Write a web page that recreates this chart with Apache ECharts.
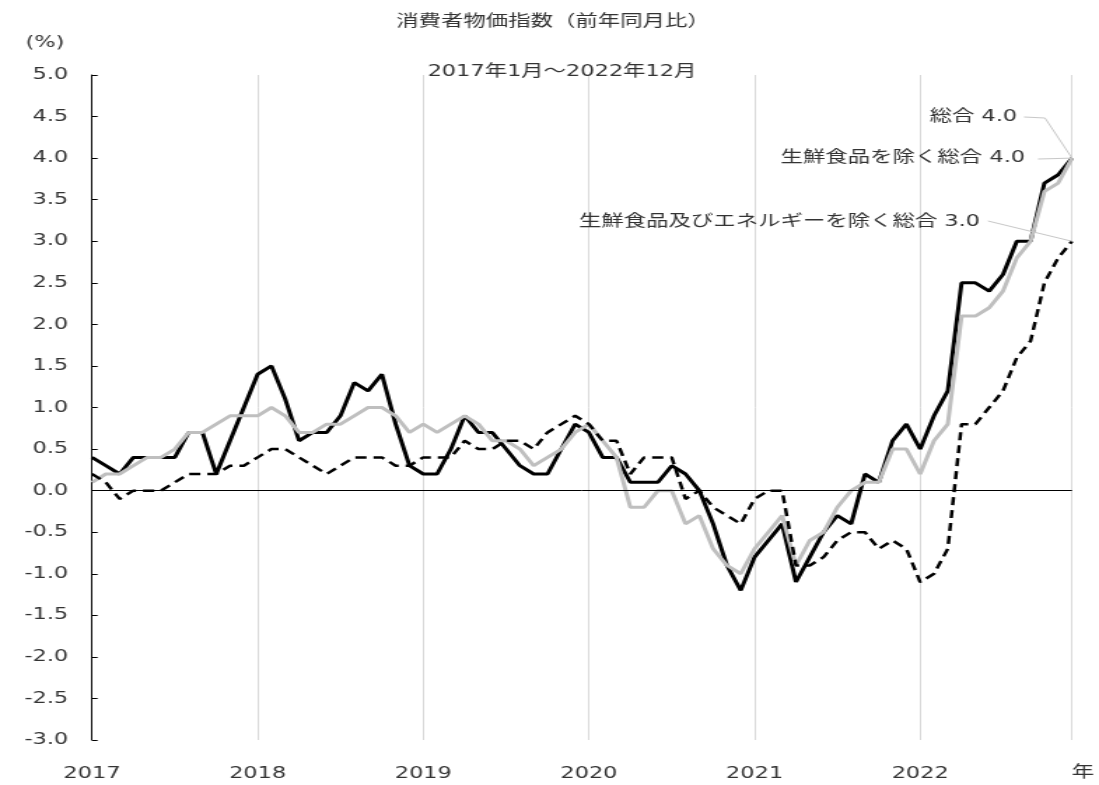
<!DOCTYPE html>
<html><head><meta charset="utf-8">
<script src="https://cdn.jsdelivr.net/npm/echarts@6/dist/echarts.min.js"></script>
<style>
html,body{margin:0;padding:0;background:#fff;overflow:hidden;width:1099px;height:785px}
#wrap{width:785px;height:785px;transform:scaleX(1.4);transform-origin:0 0;}
</style></head><body><div id="wrap"></div>
<script>
// horizontal stretch of the whole picture (the reference is horizontally stretched)
const SX = 1.4;

const years = ['2017', '2018', '2019', '2020', '2021', '2022'];
const titleText = '消費者物価指数（前年同月比）';
const subtitleText = '2017年1月～2022年12月';
const unitText = '(%)';
const yearUnit = '年';
const names = ['総合', '生鮮食品を除く総合', '生鮮食品及びエネルギーを除く総合'];

// 総合
const headline = [
  0.4, 0.3, 0.2, 0.4, 0.4, 0.4, 0.4, 0.7, 0.7, 0.2, 0.6, 1.0,
  1.4, 1.5, 1.1, 0.6, 0.7, 0.7, 0.9, 1.3, 1.2, 1.4, 0.8, 0.3,
  0.2, 0.2, 0.5, 0.9, 0.7, 0.7, 0.5, 0.3, 0.2, 0.2, 0.5, 0.8,
  0.7, 0.4, 0.4, 0.1, 0.1, 0.1, 0.3, 0.2, 0.0, -0.4, -0.9, -1.2,
  -0.8, -0.6, -0.4, -1.1, -0.8, -0.5, -0.3, -0.4, 0.2, 0.1, 0.6, 0.8,
  0.5, 0.9, 1.2, 2.5, 2.5, 2.4, 2.6, 3.0, 3.0, 3.7, 3.8, 4.0
];
// 生鮮食品を除く総合
const core = [
  0.1, 0.2, 0.2, 0.3, 0.4, 0.4, 0.5, 0.7, 0.7, 0.8, 0.9, 0.9,
  0.9, 1.0, 0.9, 0.7, 0.7, 0.8, 0.8, 0.9, 1.0, 1.0, 0.9, 0.7,
  0.8, 0.7, 0.8, 0.9, 0.8, 0.6, 0.6, 0.5, 0.3, 0.4, 0.5, 0.7,
  0.8, 0.6, 0.4, -0.2, -0.2, 0.0, 0.0, -0.4, -0.3, -0.7, -0.9, -1.0,
  -0.7, -0.5, -0.3, -0.9, -0.6, -0.5, -0.2, 0.0, 0.1, 0.1, 0.5, 0.5,
  0.2, 0.6, 0.8, 2.1, 2.1, 2.2, 2.4, 2.8, 3.0, 3.6, 3.7, 4.0
];
// 生鮮食品及びエネルギーを除く総合
const coreCore = [
  0.2, 0.1, -0.1, 0.0, 0.0, 0.0, 0.1, 0.2, 0.2, 0.2, 0.3, 0.3,
  0.4, 0.5, 0.5, 0.4, 0.3, 0.2, 0.3, 0.4, 0.4, 0.4, 0.3, 0.3,
  0.4, 0.4, 0.4, 0.6, 0.5, 0.5, 0.6, 0.6, 0.5, 0.7, 0.8, 0.9,
  0.8, 0.6, 0.6, 0.2, 0.4, 0.4, 0.4, -0.1, 0.0, -0.2, -0.3, -0.4,
  -0.1, 0.0, 0.0, -0.9, -0.9, -0.8, -0.6, -0.5, -0.5, -0.7, -0.6, -0.7,
  -1.1, -1.0, -0.7, 0.8, 0.8, 1.0, 1.2, 1.6, 1.8, 2.5, 2.8, 3.0
];

const FONT = "'DejaVu Sans','Noto Sans CJK JP',sans-serif";
const TXT = '#333';
const X = v => v / SX; // convert picture x to internal x

const chart = echarts.init(document.getElementById('wrap'), null, {width: 785, height: 785, renderer: 'canvas'});
const toPts = arr => arr.map((v, i) => [i, v]);

const option = {
  animation: false,
  backgroundColor: '#fff',
  grid: {left: X(92), right: X(27), top: 75, bottom: 45},
  xAxis: {
    type: 'value', min: 0, max: 71, interval: 12,
    axisLine: {show: false}, axisTick: {show: false},
    splitLine: {show: true, lineStyle: {color: '#d9d9d9', width: 1}},
    axisLabel: {
      formatter: v => years[Math.round(v / 12)] || '',
      margin: 26, fontSize: 16, color: TXT, fontFamily: FONT
    }
  },
  yAxis: {
    type: 'value', min: -3, max: 5, interval: 0.5,
    axisLine: {show: true, lineStyle: {color: '#000', width: 1}},
    axisTick: {show: true, inside: true, length: 4, lineStyle: {color: '#000'}},
    splitLine: {show: false},
    axisLabel: {formatter: v => v.toFixed(1), margin: 17, fontSize: 16, color: TXT, fontFamily: FONT}
  },
  series: [
    {
      name: names[0], type: 'line', data: toPts(headline), showSymbol: false,
      lineStyle: {color: '#000', width: 3}, z: 3,
      markLine: {
        silent: true, symbol: 'none', label: {show: false}, animation: false,
        lineStyle: {color: '#000', width: 1, type: 'solid'},
        data: [{yAxis: 0}]
      }
    },
    {
      name: names[1], type: 'line', data: toPts(core), showSymbol: false,
      lineStyle: {color: '#bfbfbf', width: 3}, z: 4
    },
    {
      name: names[2], type: 'line', data: toPts(coreCore), showSymbol: false,
      lineStyle: {color: '#000', width: 2.5, type: [8, 5]}, z: 5
    }
  ]
};
chart.setOption(option);

const last = headline.length - 1;
const pH = chart.convertToPixel({gridIndex: 0}, [last, headline[last]]);
const pC = chart.convertToPixel({gridIndex: 0}, [last, core[last]]);
const pK = chart.convertToPixel({gridIndex: 0}, [last, coreCore[last]]);

const txt = (text, x, y, align) => ({
  type: 'text', x: x, y: y, silent: true,
  style: {text: text, fill: TXT, font: '16px ' + FONT, textAlign: align || 'center', textVerticalAlign: 'middle'}
});
const leader = pts => ({
  type: 'polyline', silent: true, z: 10,
  shape: {points: pts},
  style: {stroke: '#c8c8c8', lineWidth: 1, fill: null}
});

chart.setOption({
  graphic: [
    txt(titleText, X(553), 22),
    txt(subtitleText, X(562), 72),
    txt(unitText, X(45), 43),
    txt(yearUnit, X(1083), 773),
    txt(names[0] + ' ' + headline[last].toFixed(1), X(1017), 117, 'right'),
    txt(names[1] + ' ' + core[last].toFixed(1), X(1025), 158, 'right'),
    txt(names[2] + ' ' + coreCore[last].toFixed(1), X(980), 222, 'right'),
    leader([[X(1024), 117], [X(1045), 118], pH]),
    leader([[X(1038), 159], pC]),
    leader([[X(988), 221], pK])
  ]
});
</script></body></html>
